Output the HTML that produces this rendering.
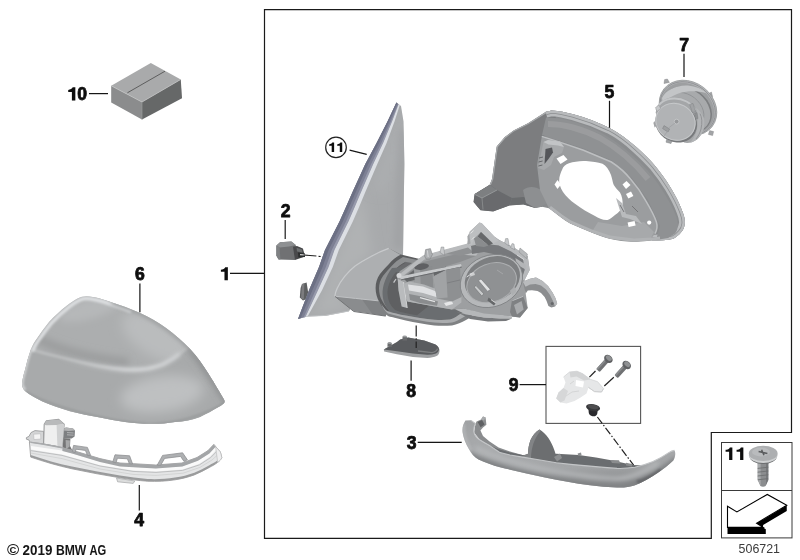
<!DOCTYPE html>
<html>
<head>
<meta charset="utf-8">
<title>Exterior mirror parts diagram</title>
<style>
html,body{margin:0;padding:0;background:#fff;}
body{width:800px;height:560px;overflow:hidden;font-family:"Liberation Sans",sans-serif;}
svg{display:block;position:absolute;left:0;top:0;}
.lbl{font-family:"Liberation Sans",sans-serif;font-weight:bold;font-size:17.6px;fill:#0a0a0a;stroke:#0a0a0a;stroke-width:0.75;stroke-linejoin:round;}
.ld{stroke:#161616;stroke-width:1.2;fill:none;}
.fr{stroke:#1a1a1a;stroke-width:1.2;fill:none;}
.dd{stroke:#222;stroke-width:1.2;fill:none;stroke-dasharray:6 2 1.5 2;}
</style>
</head>
<body>
<svg width="800" height="560" viewBox="0 0 800 560">
<defs>
<filter id="b1" filterUnits="userSpaceOnUse" x="0" y="0" width="800" height="560"><feGaussianBlur stdDeviation="1"/></filter>
<filter id="b2" filterUnits="userSpaceOnUse" x="0" y="0" width="800" height="560"><feGaussianBlur stdDeviation="2"/></filter>
<filter id="b3" filterUnits="userSpaceOnUse" x="0" y="0" width="800" height="560"><feGaussianBlur stdDeviation="3.5"/></filter>
<filter id="b5" filterUnits="userSpaceOnUse" x="0" y="0" width="800" height="560"><feGaussianBlur stdDeviation="6"/></filter>
<filter id="soft" filterUnits="userSpaceOnUse" x="0" y="0" width="800" height="560"><feGaussianBlur stdDeviation="0.45"/></filter>
<path id="one" d="M3.3 0 L0.8 0 C0.2 1.3 -1.6 2.3 -3.55 2.5 L-3.55 4.4 L0 4.4 L0 12.8 L3.3 12.8 Z"/>
</defs>
<rect x="0" y="0" width="800" height="560" fill="#fff"/>

<!-- ===== FRAME ===== -->
<g id="frame">
<path class="fr" d="M264.5 9.6 H791.5 V432.5 H711.3 V538.4 H264.5 Z"/>
<rect x="721.5" y="442.5" width="70.5" height="95.4" fill="none" stroke="#3a3a3a" stroke-width="1"/>
<line x1="721.6" y1="490.5" x2="792" y2="490.5" stroke="#3a3a3a" stroke-width="1"/>
<rect x="546" y="346.4" width="94.6" height="77" fill="none" stroke="#555" stroke-width="1.1"/>
</g>

<!-- PARTS-START -->
<!-- ===== PART 10 : box ===== -->
<g id="p10" filter="url(#soft)">
<path d="M111.2 85.8 L150.8 63 L180.8 79.4 L142 102 Z" fill="#a9aaab"/>
<path d="M111.2 85.8 L142 102 L142 119.6 L111.2 102.4 Z" fill="#8b8c8d"/>
<path d="M142 102 L180.8 79.4 L182 98.2 L142 119.6 Z" fill="#666768"/>
<path d="M127.4 92.8 L165 71.2" stroke="#555" stroke-width="0.9" fill="none"/>
<path d="M111.2 85.8 L142 102 L180.8 79.4" stroke="#c4c5c6" stroke-width="0.7" fill="none"/>
<path d="M142 102 L142 119.6" stroke="#9a9b9c" stroke-width="0.7" fill="none"/>
</g>

<!-- ===== PART 6 : mirror cap ===== -->
<g id="p6">
<defs>
<clipPath id="c6"><path id="cap6" d="M86.5 296.3 C95 296.5 103 299.5 112 302.5 C121 305.5 130 308.5 139 312.4 C149 317 158 322 166 328 C175 334.5 183 341.5 190 349 C197 356.5 203 365 208 373 C213 381 218 389 221 394.5 C223.5 398.5 225 400.5 224.6 402 C224.2 403.6 222 405 218.5 407.1 C212.6 410.6 206.4 414 200 416.9 C192 420 184 421.4 175 421.9 C166.6 423.4 158.4 423.9 150 423.75 C141.6 423.6 133.4 423 125 421.9 C116.6 420.8 108.4 419.3 100 417.5 C90 415.8 80 413.8 70 411.25 C60.6 408.6 51.4 405.4 42.5 401.6 C36 398.6 29.6 394.8 25.6 391.6 C23.4 389.6 21.9 386.6 22 383.5 C22.5 379 23.5 375 25 370 C26.5 363 28.5 356 31 349 C32.5 345 34.5 342 37 338.5 C40.5 333 44.5 327.5 49 322 C54.5 316 60.5 310.5 67 305.5 C70.5 302.8 74 300.3 77.5 298.5 C80.5 297 83.5 296.3 86.5 296.3 Z"/></clipPath>
<linearGradient id="g6a" x1="0" y1="0" x2="0" y2="1">
<stop offset="0" stop-color="#b9bbbc"/><stop offset="0.35" stop-color="#a7a9aa"/><stop offset="0.7" stop-color="#9fa1a2"/><stop offset="1" stop-color="#8c8e8f"/>
</linearGradient>
</defs>
<use href="#cap6" fill="#acaeaf" filter="url(#soft)"/>
<g clip-path="url(#c6)">
<!-- upper surface light spot right -->
<ellipse cx="160" cy="338" rx="42" ry="20" transform="rotate(28 160 338)" fill="#babcbd" filter="url(#b5)"/>
<!-- top area near peak lighter -->
<ellipse cx="92" cy="308" rx="34" ry="10" transform="rotate(-18 92 308)" fill="#b6b8b9" filter="url(#b3)"/>
<!-- darker band above ridge on left/middle -->
<path d="M40 340 C60 350 90 358 125 362" stroke="#9b9d9e" stroke-width="9" stroke-linecap="round" fill="none" filter="url(#b3)"/>
<!-- lower side base tone (below ridge) -->
<path d="M31.5 349.1 C40 352 48 354 56.3 356 C70 359.5 84 363 97.5 365.6 C107 367.4 116 368.6 125 369.2 C133 369.6 140 369.4 147 368.4 C153 367.2 158.6 365.8 163.5 363.7 C169.6 360.8 175 357.4 180 353.3 C184 350.4 188 347.2 191 343.6 L240 400 L220 440 L10 440 L10 360 Z" fill="#a8aaab"/>
<!-- bottom darker -->
<path d="M14 392 C50 412 100 430 140 432 C175 430 205 418 230 404 L236 450 L10 450 Z" fill="#9a9c9d" filter="url(#b3)" opacity="0.0"/>
<ellipse cx="162" cy="394" rx="42" ry="18" transform="rotate(-8 162 394)" fill="#bec0c1" filter="url(#b5)"/>
<path d="M26 392 C50 406 100 420 150 424.5 C185 423 210 412 226 402" stroke="#999b9c" stroke-width="2.2" fill="none" filter="url(#b1)"/>
<!-- right-lower darker -->
<path d="M188 350 C202 366 216 388 226 404 L236 398 L204 342 Z" fill="#8a8c8d" filter="url(#b3)"/>
<!-- ridge highlight -->
<path d="M31.5 349.4 C40 352.3 48 354.3 56.3 356.3 C70 359.8 84 363.3 97.5 365.9 C107 367.7 116 368.9 125 369.5 C133 369.9 140 369.7 147 368.7 C153 367.5 158.6 366.1 163.5 364 C169.6 361.1 175 357.7 180 353.6 C184 350.7 188 347.5 191 343.9" stroke="#bdbfc0" stroke-width="2.6" fill="none" filter="url(#b1)"/>
<linearGradient id="g6r" gradientUnits="userSpaceOnUse" x1="60" y1="0" x2="185" y2="0"><stop offset="0" stop-color="#d4d6d8" stop-opacity="0"/><stop offset="0.6" stop-color="#dcdee0" stop-opacity="1"/><stop offset="1" stop-color="#d4d6d8" stop-opacity="1"/></linearGradient>
<path d="M56.3 356.5 C70 360 84 363.5 97.5 366.1 C107 367.9 116 369.1 125 369.7 C133 370.1 140 369.9 147 368.9 C153 367.7 158.6 366.3 163.5 364.2 C169.6 361.3 175 357.9 180 353.8" stroke="url(#g6r)" stroke-width="3.4" fill="none" filter="url(#b2)"/>
<!-- top-left rim highlight -->
<path d="M33 350 C35 345 37 342 39 339.5 C42.5 334.5 46.5 329 51 323.5 C56.5 317.5 62.5 312 69 307 C72.5 304.3 76 302 79 300.4 C81.6 299 84 298.4 86.5 298.4 C95 298.6 103 301.6 112 304.6 C118 306.6 124 308.8 130 311" stroke="#dcdee0" stroke-width="3.6" fill="none" filter="url(#b1)" stroke-linecap="round"/>
<!-- left lower rim highlight -->
<path d="M31 349 C28.5 356 26.5 363 25 370 C23.5 375 22.5 379 22 383.5 C22 386 23 388 25 389.8" stroke="#d0d2d3" stroke-width="3" fill="none" filter="url(#b1)"/>
<!-- top right edge slight shade -->
<path d="M112 302 C122 305.5 130 308.5 139 312 C158 321 178 336 194 352 C204 364 214 380 224 398" stroke="#999b9c" stroke-width="4" fill="none" filter="url(#b2)"/>
</g>
</g>

<!-- ===== PART 4 : turn signal ===== -->
<g id="p4" filter="url(#soft)">
<!-- left small bracket -->
<path d="M26.4 437.6 L29 436.4 L31 432.6 L35 430.6 L43.6 431.4 L43.6 444 L30.6 443.6 L29 440 L26.4 439.2 Z" fill="#d4d5d6" stroke="#9b9c9d" stroke-width="0.9"/>
<path d="M33.6 434.2 L40.6 433.8 L40.8 439 L34 439.6 Z" fill="#f4f4f4" stroke="#b2b3b4" stroke-width="0.5"/>
<!-- dark slot under connector -->
<path d="M62.6 438 L70.4 438.6 L70 446 L72.4 450.6 L62.4 450 Z" fill="#747576"/>
<path d="M65.6 440 L70 440.6 L69.6 446.6 L66 449.4 Z" fill="#a7a8a9"/>
<!-- connector right of block -->
<path d="M62.8 429 L66 427.6 L73 428.4 L75 430.6 L74.6 436.6 L71.6 438.4 L63 438 Z" fill="#7d7f81"/>
<path d="M62.8 429 L66 427.6 L73 428.4 L75 430.6 L68.6 431 L63 430.6 Z" fill="#b3b4b5"/>
<path d="M67 432.6 L73.6 433 M67 434.8 L73.6 435.2" stroke="#c9cacb" stroke-width="0.7" fill="none"/>
<!-- tall block -->
<path d="M44.2 424.4 L46.4 420.8 L58.6 419.4 L64.2 424.2 L62.2 447.4 L43.6 444.4 Z" fill="#efefef" stroke="#9b9c9d" stroke-width="1.1"/>
<path d="M44.2 424.4 L46.4 420.8 L58.6 419.4 L64.2 424.2 L56.6 425 L46 425.2 Z" fill="#b9babb"/>
<path d="M56.6 425 L64.2 424.2 L62.2 447.4 L57.4 446.6 Z" fill="#d0d1d2"/>
<!-- lens body -->
<path d="M29.4 442 L43.6 444 L62.4 447.6 L72 450.2 L100 458.6 L120 463 L133.8 463.7 L155.8 465 L181.9 463 L197 457.5 L208 450.6 L213.8 444.4 L220.4 452 L221.8 457.5 C221 459.6 219.6 461 217.7 462.3 C215 464.6 212 466 209.4 467.4 C204.6 470.2 199.6 472.6 194.3 474.9 C188 477.2 181.6 478.8 175 479.8 C166 481.2 157 481.6 147.5 481.2 C138.4 480.6 129.4 479.4 120 477.8 C104 475.2 88 472.2 72 468.8 C58 465.8 44 461.6 30.7 457.1 Z" fill="#e4e5e6" stroke="#a1a2a3" stroke-width="0.9"/>
<!-- bottom dark edge -->
<path d="M30.7 455 C44 459.6 58 463.6 72 466.6 C88 470 104 473 120 475.6 C129.4 477.2 138.4 478.4 147.5 479 C157 479.4 166 479 175 477.6 C181.6 476.6 188 475 194.3 472.7 C199.6 470.4 204.6 468 209.4 465.2 C212 463.8 215 462.4 217.7 460.3 L217.7 462.3 C215 464.6 212 466 209.4 467.4 C204.6 470.2 199.6 472.6 194.3 474.9 C188 477.2 181.6 478.8 175 479.8 C166 481.2 157 481.6 147.5 481.2 C138.4 480.6 129.4 479.4 120 477.8 C104 475.2 88 472.2 72 468.8 C58 465.8 44 461.6 30.7 457.1 Z" fill="#9a9b9c"/>
<!-- white band under rail -->
<path d="M31 446 L62 450.6 L100 461.6 L133 467 L156 468.2 L182 466.2 L198 460.6 L209 453.6 L215.4 447 L216.6 449.6 L210 456.8 L199 464 L182.6 469.6 L156 471.6 L133 470.6 L100 465.2 L62 454.6 L31 449.6 Z" fill="#fafafa"/>
<!-- mid line -->
<path d="M30.6 450.6 L62 455.4 L100 466 L133 471.4 L156 472.4 L182.6 470.4 L199.6 464.8 L210.6 457.6 L217.6 450.6" stroke="#b4b5b6" stroke-width="0.8" fill="none"/>
<path d="M30.6 453 L62 458.6 L100 469 L133 474.4 L156 475.4 L183 473.2 L200 467.4 L212 460 L219 453.6" stroke="#cfd0d1" stroke-width="0.8" fill="none"/>
<!-- upper rail -->
<path d="M62.4 447.6 L72 450.2 L100 458.6 L120 463 L133.8 463.7 L155.8 465 L181.9 463 L197 457.5 L208 450.6 L213.8 444.4 L215.6 446.8 L209.4 453.6 L198 460.8 L182.4 466.4 L155.8 468.4 L133.6 467.2 L120 466.4 L100 462 L72 453.6 L62.4 451 Z" fill="#a3a5a7"/>
<path d="M31 442.4 L43.6 444.2 L62.4 447.8" stroke="#a9abad" stroke-width="1.4" fill="none"/>
<!-- clips -->
<path d="M72.2 451.6 L73.6 445.4 L87.4 447.4 L90.6 455.4 L87.6 455.6 L85.4 450.4 L76 449.2 L75.2 452.6 Z" fill="#aeb0b2" stroke="#8f9193" stroke-width="0.8"/>
<path d="M112.8 462 L115 454.8 L129.6 455.8 L132.6 464 L129.4 463.8 L127.4 458.8 L117.4 458.2 L116 462.8 Z" fill="#aeb0b2" stroke="#8f9193" stroke-width="0.8"/>
<path d="M157.2 465.2 L162.6 455.4 L182.6 452.8 L187.4 459.8 L184 461.4 L180.6 456.4 L164.6 458.4 L160.6 465.4 Z" fill="#aeb0b2" stroke="#8f9193" stroke-width="0.8"/>
<!-- bottom tab -->
<path d="M116.5 478 L117.6 481.8 L133.2 483.4 L134.8 481 Z" fill="#dcdddd" stroke="#a4a5a6" stroke-width="0.7"/>
<!-- right end cap -->
<path d="M213.8 444.4 L220.4 452 L221.8 457.5 C221 459.6 219.6 461 217.7 462.3 L216.4 452.6 L215.6 446.8 Z" fill="#eeeeef" stroke="#b7b8b9" stroke-width="0.6"/>
</g>

<!-- ===== PART 1 : mirror base triangle + arm ===== -->
<g id="p1base">
<defs>
<clipPath id="cTri"><path d="M396.4 102.6 L401 106 L403.5 121.4 L404.4 164 L403.8 200 L403 257 L388 249 L349 311.3 L325.7 315.7 L306 316.6 L298.0 319.0 L309.0 290.2 L319.0 267.0 L325.0 250.0 L339.5 221.4 L346.0 207.0 L352.1 192.9 L365.2 164.2 L376.7 142.8 L387.5 121.4 Z"/></clipPath>
</defs>
<g filter="url(#soft)">
<!-- small dark tab behind strip -->
<path d="M302 284 L306.6 282.6 L309 298 L303 300.6 L299.8 297.4 L300.6 288 Z" fill="#5d5e60"/>
<path d="M302 284 L304.4 283.4 L303.8 299.6 L301 298.6 Z" fill="#7b7c7e"/>
<!-- main face -->
<path d="M396.4 102.6 L401 106 L403.5 121.4 L404.4 164 L403.8 200 L403 257 L388 249 L349 311.3 L325.7 315.7 L306 316.6 L298.0 319.0 L309.0 290.2 L319.0 267.0 L325.0 250.0 L339.5 221.4 L346.0 207.0 L352.1 192.9 L365.2 164.2 L376.7 142.8 L387.5 121.4 Z" fill="#a8aaac"/>
</g>
<g clip-path="url(#cTri)">
<!-- lighter lower-left of face -->
<path d="M362 190 L322 296 L312 316 L350 310 L338 292 L352 268 L372 254 Z" fill="#b0b2b4" filter="url(#b5)"/>
<path d="M402 103 L395 130 L372 190 L384 192 L398 160 Z" fill="#acaeb0" filter="url(#b5)"/>
<!-- darker right of face -->
<path d="M400 130 L405 130 L403 250 L394 247 Z" fill="#a0a2a4" filter="url(#b3)"/>
</g>
<g filter="url(#soft)">
<!-- blue-gray strip -->
<path d="M396.4 102.6 L387.5 121.4 L376.7 142.8 L365.2 164.2 L352.1 192.9 L346.0 207.0 L339.5 221.4 L325.0 250.0 L319.0 267.0 L309.0 290.2 L298.0 319.0 L305.5 317.0 L318.0 290.2 L328.6 267.0 L334.5 250.0 L348.5 221.4 L354.8 207.0 L360.7 192.9 L373.2 164.2 L383.3 142.8 L392.1 121.4 L398.6 104.2 Z" fill="#7d8094"/>
<path d="M396.4 102.6 L387.5 121.4 L376.7 142.8 L365.2 164.2 L352.1 192.9 L346.0 207.0 L339.5 221.4 L325.0 250.0 L319.0 267.0 L309.0 290.2 L298.0 319.0 L300.6 318.2 L312.4 290.2 L322.6 267.0 L328.6 250.0 L342.9 221.4 L349.3 207.0 L355.4 192.9 L368.2 164.2 L379.2 142.8 L389.2 121.4 L397.3 103.2 Z" fill="#6c6f84"/>
<path d="M398.2 103.9 L390.8 121.4 L381.5 142.8 L371.0 164.2 L358.3 192.9 L352.3 207.0 L346.0 221.4 L331.8 250.0 L325.9 267.0 L315.5 290.2 L303.6 317.6 L305.5 317.0 L318.0 290.2 L328.6 267.0 L334.5 250.0 L348.5 221.4 L354.8 207.0 L360.7 192.9 L373.2 164.2 L383.3 142.8 L392.1 121.4 L398.6 104.2 Z" fill="#9699ab"/>
<!-- highlight -->
<path d="M398.6 104.2 L392.1 121.4 L383.3 142.8 L373.2 164.2 L360.7 192.9 L354.8 207.0 L348.5 221.4 L334.5 250.0 L328.6 267.0 L318.0 290.2 L305.5 317.0 L307.6 316.4 L322.0 290.2 L332.8 267.0 L338.8 250.0 L352.8 221.4 L359.1 207.0 L364.9 192.9 L377.2 164.2 L386.7 142.8 L394.5 121.4 L399.8 105.0 Z" fill="#dcdfe4"/>
<!-- face bottom edge light -->
<path d="M306 316.4 L325.7 315.4 L349 311" stroke="#c1c3c5" stroke-width="0.9" fill="none"/>

<!-- arm top dark sliver -->
<path d="M388.7 248.3 L400.9 254.4 L407.7 261.2 L412 266 L400.9 256.4 Z" fill="#7b7d7f"/>
<!-- arm main surface -->
<path d="M388.7 248.3 C382 250.6 376 253.6 370.5 256.7 C365 259.6 360 262.6 355.4 265.8 C351.4 269 347.8 272.6 344.7 276.4 C341.6 280.2 339 284.4 337.1 288.6 C335.8 291.4 335 293.8 334.9 296.2 L355.4 298.4 L378.1 301 L402 290 L402.9 256.2 Z" fill="#adafb1"/>
<!-- arm bottom wedge -->
<path d="M334.9 296.2 L355.4 298.4 L378.1 300.8 L388 312 L385.7 315.9 L370 313.6 L353.8 311.3 L345 304.6 Z" fill="#8a8c8e"/>
<path d="M362 299.2 L378.1 300.8 L388 312 L385.7 315.9 L372 313.8 Z" fill="#7f8183"/>
<!-- wedge upper edge highlight -->
<path d="M334.9 296.2 L355.4 298.4 L378.1 300.8" stroke="#bfc1c3" stroke-width="1" fill="none"/>
<!-- arm outer curve highlight -->
<path d="M388.7 248.3 C382 250.6 376 253.6 370.5 256.7 C365 259.6 360 262.6 355.4 265.8 C351.4 269 347.8 272.6 344.7 276.4 C341.6 280.2 339 284.4 337.1 288.6 C335.8 291.4 335 293.8 334.9 296.2" stroke="#c8cacc" stroke-width="1.3" fill="none"/>
<!-- arm bottom edge darker -->
<path d="M335 296.4 L353.8 311.5 L370 313.8 L385.7 316.1" stroke="#727476" stroke-width="1" fill="none"/>
<!-- opening: thin dark band, sleeve, interior -->
<path d="M400.9 254.6 C396 257 392 260.6 389 264 C385.6 267.4 382.6 270.6 380 274 C377 278.4 375.6 283 375.6 288 C375.6 293 377 297.6 379 301.6 C381 305.4 383.4 308.6 386 311.4 L388 316 L424 322 L432 262 Z" fill="#5b5d5f"/>
<path d="M403 257 C398.6 259.4 394.6 262.6 391.6 266 C388.4 269.4 385.6 272.6 383 276 C380.2 280 379 284 379 288.4 C379 293 380.2 297 382 300.6 C384 304.4 386.4 307.6 389 310.4 L392 316 L424 321 L432 263 Z" fill="#8d8f91"/>
<path d="M406 262 C401 264.4 397 267.8 394 271.6 C390.4 276 388.2 281 387.8 286 C387.4 291.6 388.6 297 391.2 301.6 C393 304.8 395.4 307.6 398.2 310 L424 316 L430 266 Z" fill="#696b6d"/>
<path d="M405.4 262.4 C400.4 264.8 396.6 268 393.6 271.8 C390 276.2 387.8 281.2 387.4 286.2 C387 291.8 388.2 297.2 390.8 301.8" stroke="#58595b" stroke-width="0.9" fill="none"/>
</g>
</g>

<!-- ===== PART 2 : connector ===== -->
<g id="p2" filter="url(#soft)">
<path d="M276.4 245.4 L280 242.2 L291.4 241.4 L295.7 245 L296.4 252 L295 260 L278.6 259.4 L276.4 255.8 Z" fill="#6f7173"/>
<path d="M276.4 245.4 L280 242.2 L291.4 241.4 L295.7 245 L289 246.6 L279.6 247.4 Z" fill="#8e9092"/>
<path d="M276.4 245.4 L279.6 247.4 L280.4 259.4 L278.6 259.4 L276.4 255.8 Z" fill="#7f8183"/>
<path d="M293 246.8 L297 246 L302.9 248.6 L304.3 253.6 L302.9 257.2 L295 260 Z" fill="#48494b"/>
<path d="M296.6 247.8 L302 249.6 L302.6 252.4 L297 251.4 Z" fill="#6d6f71"/>
<path d="M298 252.6 L305 253.4 L305 257 L298.4 257.6 Z" fill="#2c2d2e"/>
<path d="M300 254.6 L308 255.2" stroke="#d4d4d4" stroke-width="1.1" fill="none"/>
<path d="M303.6 255 L316.4 256" stroke="#222" stroke-width="1.2" fill="none"/>
<path d="M318.6 256.3 L320.6 256.5" stroke="#222" stroke-width="1.2" fill="none"/>
</g>

<!-- ===== PART 5 : housing frame ===== -->
<g id="p5">
<defs>
<clipPath id="c5"><path id="out5" d="M551.9 110.4 C559 110.6 566 112.4 573.2 114.3 C586 117.8 598 122.4 609.6 127.9 C619.5 133 628.6 140 636.9 147.6 C643.5 153.6 649.6 159.6 655 165.8 C660.6 172.6 665.8 179.8 670.2 187.1 C675 195 679.4 203.4 682.4 211.4 C684.2 216 685.2 220 684.8 223.5 C684.4 227.4 683 230.4 680.9 232.6 C678.6 235.4 676 237.4 673.3 238.7 C667 240.4 659.6 240.4 652 240.6 C646 241.4 640 241.9 633.8 241.7 C625.6 241.5 617.4 240.6 609.6 238.7 C603.4 237.2 597.4 235.2 591.4 232.6 C584 229.6 577 226.6 570.1 223.5 C567 221.8 564 219.6 561 217.4 C556.8 214.4 552.8 211.4 548.9 208.3 L542 206.8 L535 208 L523.4 204.5 L509.5 205.6 L493.2 211.4 L480.4 210.3 L473.5 202 L474.6 194 L489.7 184.7 L492 178.9 L496.7 146.4 L504.8 137 L514 130.2 L528 123.2 L545.8 111.8 Z"/></clipPath>
</defs>
<g filter="url(#soft)">
<use href="#out5" fill="#8a8c8e"/>
<g clip-path="url(#c5)">
<!-- left panel -->
<path d="M551 109 L528 123.2 L514 130.2 L504.8 137 L496.7 146.4 L492 178.9 L489.7 184.7 L474.6 194 L473.5 202 L480.4 210.3 L493.2 211.4 L509.5 205.6 L523.4 204.5 L535 208 L542 206.8 L548 200 L538 170 L543 140 L556 118 Z" fill="#7b7d7f"/>
<!-- left panel edge highlight -->
<path d="M549 110.6 L528 123.4 L514 130.4 L505 137.2 L497 146.6 L492.4 179 L490 184.8" stroke="#a9abad" stroke-width="1.8" fill="none"/>
<!-- foot -->
<path d="M489.7 184.7 L474.6 194 L473.5 202 L480.4 210.3 L493.2 211.4 L509.5 205.6 L512 198 L497 190 Z" fill="#696b6d"/>
<path d="M474.6 194 L489.7 184.7 L497 190 L482 198 Z" fill="#7d7f81"/>
<path d="M475 194.5 L482 198 L497 190" stroke="#9d9fa1" stroke-width="0.8" fill="none"/>
<path d="M482 198 L483 209.5" stroke="#8e9092" stroke-width="0.8" fill="none"/>
<path d="M512 198 L523.4 197 L536 201 L535 208 L523.4 204.5 L509.5 205.6 Z" fill="#6a6c6e"/>
<!-- corner pocket lighter -->
<path d="M523 190 C528 186 535 186 541 190 L547 203 L541 207 L535 208 L526 203 Z" fill="#8d8f91"/>
<!-- rim light band (stroked, clipped) -->
<path d="M545.8 111.8 L551.9 110.4 C559 110.6 566 112.4 573.2 114.3 C586 117.8 598 122.4 609.6 127.9 C619.5 133 628.6 140 636.9 147.6 C643.5 153.6 649.6 159.6 655 165.8 C660.6 172.6 665.8 179.8 670.2 187.1 C675 195 679.4 203.4 682.4 211.4 C684.2 216 685.2 220 684.8 223.5 C684.4 227.4 683 230.4 680.9 232.6 C678.6 235.4 676 237.4 673.3 238.7 C667 240.4 659.6 240.4 652 240.6" stroke="#b9bbbd" stroke-width="11.6" fill="none"/>
<path d="M545.8 111.8 L551.9 110.4 C559 110.6 566 112.4 573.2 114.3 C586 117.8 598 122.4 609.6 127.9 C619.5 133 628.6 140 636.9 147.6 C643.5 153.6 649.6 159.6 655 165.8 C660.6 172.6 665.8 179.8 670.2 187.1 C675 195 679.4 203.4 682.4 211.4 C684.2 216 685.2 220 684.8 223.5 C684.4 227.4 683 230.4 680.9 232.6 C678.6 235.4 676 237.4 673.3 238.7 C667 240.4 659.6 240.4 652 240.6" stroke="#8d8f91" stroke-width="6.6" fill="none"/>
<path d="M545.8 111.8 L551.9 110.4 C559 110.6 566 112.4 573.2 114.3 C586 117.8 598 122.4 609.6 127.9 C619.5 133 628.6 140 636.9 147.6 C643.5 153.6 649.6 159.6 655 165.8 C660.6 172.6 665.8 179.8 670.2 187.1 C675 195 679.4 203.4 682.4 211.4 C684.2 216 685.2 220 684.8 223.5 C684.4 227.4 683 230.4 680.9 232.6 C678.6 235.4 676 237.4 673.3 238.7 C667 240.4 659.6 240.4 652 240.6" stroke="#b9bbbd" stroke-width="5" fill="none"/>
<!-- inner wall (between rim and ledge) -->
<path d="M546 117.6 C560 117.4 578 122 596 130 C616 140 634 155 648 171 C660 185 670 201 676 216 C678.6 223 678.6 229 675 233.6 L668 238 L656 240 L660 226 L648 200 L632 178 L612 160.6 L584 148.6 L562 141.4 L542 135 Z" fill="#8f9193"/>
<path d="M548 124 C566 124 584 130 600 138 C618 148 634 162 648 179" stroke="#9fa1a3" stroke-width="6" fill="none" opacity="0.7"/>
<!-- inner plate -->
<path d="M541.8 136.4 L562 142.9 L583.5 150.3 L611.4 162 C619 167 625.6 172.8 630.7 179.3 C636.6 186 641.6 193 645.7 200.7 C650 208 654 215 656.4 222 C657.6 226 657 230 655 233.6 L650 240 L633.8 241.7 L609.6 238.7 L591.4 232.6 L570.1 223.5 L561 217.4 L548.9 208.3 L540 190 L537 165 Z" fill="#9b9d9f"/>
<path d="M598 222 L622 226 L644 222 L654 232 L650 240 L633.8 241.7 L609.6 238.7 L591.4 232.6 Z" fill="#a7a9ab"/>
<!-- plate ledge highlight -->
<path d="M541.8 136.4 L562 142.9 L583.5 150.3 L611.4 162 C619 167 625.6 172.8 630.7 179.3 C636.6 186 641.6 193 645.7 200.7 C650 208 654 215 656.4 222 C657.6 226 657 230 655 233.6" stroke="#bdbfc1" stroke-width="1.5" fill="none"/>
<!-- bottom edge of plate lighter -->
<path d="M548.9 208.3 L561 217.4 L570.1 223.5 L591.4 232.6 L609.6 238.7 L633.8 241.7 L652 240.6 L660 239.6 L660 236.5 L652 237.6 L634 238.6 L610 235.6 L592 229.6 L571 220.6 L562 214.6 L551 206 Z" fill="#b1b3b5"/>
<!-- bracket top-left of opening -->
<path d="M538 168 L543.5 142 L548 140 L560 141.5 L564 147 L562 153 L554 157 L551 165 L544 170 Z" fill="#a7a9ab"/>
<path d="M545.5 149 L552 147.5 L553 152.5 L548.5 159 L544.5 164 Z" fill="#55575a"/>
<path d="M543.5 142 L548 140 L560 141.5 L564 147 L558 145.5 L548.5 144.5 Z" fill="#c2c4c6"/>
<path d="M539 158 L543 157 M538.6 162 L542.6 161 M538.4 166 L542.4 165" stroke="#5f6163" stroke-width="0.9" fill="none"/>
</g>
<!-- white cutouts -->
<path d="M562 170 C563 166.5 565.6 164 569 163.2 C574 161.6 580 160.6 586 161 C592 161.4 598 162.4 602.5 163.8 C606 165.6 609 169.6 611 175 C612.4 179 612.6 182.6 613.8 185 C615.4 188 618 190 620 192.5 C622 196 623 200.6 622.5 205 C621.6 209.6 619 212.6 615 215 C612.6 217 610 219.2 607.5 220 C603 220.4 598.6 218 595 216 C588 212.6 581.6 208.6 575 203.8 C570.4 200.4 566 196.6 563 192 C560 187.4 558.4 182.6 559.4 177.6 C560 174.6 561 172 562 170 Z" fill="#fff"/>
<path d="M556.5 158.5 L563.5 155 L567.5 159.5 L560.5 164 Z" fill="#fff"/>
<path d="M622.5 184.6 L626.5 181 L630.5 185 L626 189 Z" fill="#fff"/>
<path d="M626 194 L631 191.6 L633.4 196 L628.4 198.6 Z" fill="#fff"/>
<path d="M627.6 222.6 L634.6 221 L635.6 225.4 L628.6 227 Z" fill="#fff"/>
<circle cx="649.2" cy="222.6" r="2.1" fill="#fff"/>
<path d="M557.5 180 L561 184.5 L557.5 189 L554.5 184.5 Z" fill="#fff"/>
<!-- detail bits near right of opening -->
<path d="M616 198 L622 203 L626 214 L636 216 L642 224 L630 219 L622 217 Z" fill="#b9bbbd"/>
<path d="M620 205 L624 212 M632 206 L638 212" stroke="#6f7173" stroke-width="0.9" fill="none"/>
</g>
</g>

<!-- ===== PART 1 : mechanism ===== -->
<g id="p1mech" filter="url(#soft)">
<!-- tray interior dark (continues from arm opening) -->
<path d="M392 268 C386 276 382 286 382.6 295 C383 302 386 308 391 312.6 C398 315.6 405.7 317.4 414 319 C421 320.4 428 321.6 434.3 322.2 C440 322.6 446 322.4 450 321.6 C455 320.4 460 318 466 314 L486 306 L480 280 L420 266 Z" fill="#6b6d6f"/>
<path d="M396 272 C390 279 387 287 387.6 295 C388 301 390.6 306 395 310 C401 312.4 409 314 417 315.2 L436 300 L420 278 Z" fill="#5e6062"/>
<!-- tray lip light band -->
<path d="M381 303 C382.6 306.6 384.6 309 387 311 C393 313 399 314.4 405.7 315.6 C415 317.4 425 319 434.3 319.8 C440 320.2 445 320.2 450 319.6 C453 318.8 456 317 458.6 315 C461 313.4 463.6 312 466 311 L470 309.4 L472 316.6 C470 317.6 468 318.8 466 320 C461.6 322.4 457 324.4 452 325.4 C446 326 440 326 434.3 325.4 C425 324.4 415 322.6 405.7 320.6 C399.6 319.2 393.6 317.6 388 316 C385 313.6 382.6 309 381 303 Z" fill="#7f8183"/>
<path d="M381 303 C382.6 306.6 384.6 309 387 311 C393 313 399 314.4 405.7 315.6 C415 317.4 425 319 434.3 319.8 C440 320.2 445 320.2 450 319.6 C453 318.8 456 317 458.6 315 C461 313.4 463.6 312 466 311 L470 309.4 L470.6 313.6 C468 314.6 465.6 316 463 317.4 C459.6 319.6 455.6 321.6 452 322.4 C446 323.2 440 323.2 434.3 322.6 C425 321.6 415 319.8 405.7 318 C399.6 316.8 393.6 315.2 388 313.6 C385.4 311.6 383 308 381 303 Z" fill="#aaacae"/>
<!-- frame main plate -->
<path d="M397 276 L400 271 L423 256 L445 250 L467 244.5 L469.7 231.7 L479.6 222.5 L482 223.4 L494.3 236.6 L500.2 240.5 L513.9 247.4 L527.7 256.3 L529.7 270 L524.7 279.8 L525.7 293.6 L527.7 308 L520 317.4 L500 315.5 L484 314.5 L464 308.5 L452 309.5 L432 306 L408 301.5 L399 290 Z" fill="#9d9fa1"/>
<!-- beam under top strut (mid gray) -->
<path d="M402 277.5 L423 262 L446 256.5 L462 253 L476 251 L476 256 L460 262 L440 268 L420 274 L406 279.5 Z" fill="#8c8e90"/>
<!-- cylinder under beam -->
<path d="M413.6 268 L432 266 L433.6 290 L415 291 Z" fill="#8a8c8e"/>
<path d="M413.6 268 L420 267.4 L421 290.6 L415 291 Z" fill="#9b9d9f"/>
<ellipse cx="421.6" cy="266.6" rx="7.4" ry="3.2" transform="rotate(-8 421.6 266.6)" fill="#5f6163"/>
<!-- dark gaps -->
<path d="M403 278 L414 270 L414.6 280 L407 282 Z" fill="#66686a"/>
<path d="M433 270 L446 266.6 L446 270 L434 276 Z" fill="#66686a"/>
<!-- left vertical bracket -->
<path d="M397.9 279 L403.6 282 L407.2 308 L401.6 306.6 L398.4 290 Z" fill="#b9bbbd"/>
<path d="M403.6 282 L407.2 308" stroke="#d8d9da" stroke-width="0.9" fill="none"/>
<!-- lower-left bright arm -->
<path d="M403.6 284 L409 281.6 L424 284.4 L444.3 292 L461.4 296 L461.4 302.6 L452 309.5 L432 306 L407.2 301.5 Z" fill="#b1b3b5"/>
<path d="M408 284.4 L423 286.4 L443 294 L441 298.4 L423 293 L409 290.4 Z" fill="#dfe0e2"/>
<path d="M409 294 L422 296.5 L438 301.4 L437 305.8 L420 303 L410 300 Z" fill="#8a8c8e"/>
<path d="M420 297.6 L435 301.6" stroke="#e3e4e5" stroke-width="1.2" fill="none"/>
<path d="M444 303 L452 301 L453 304 L446 306 Z" fill="#e6e7e8"/>
<!-- top strut -->
<path d="M398 275.5 L423 255.6 L445 249.6 L467.5 243.6 L478.6 251.7 L476 255.7 L446 253.4 L424.5 259.4 L401 277.6 Z" fill="#b9bbbd"/>
<path d="M446 253.6 L468 247.6 L474 252.6 L460 256 Z" fill="#8f9193"/>
<!-- diagonal rod -->
<path d="M399.5 276.5 L461 264 L461.8 266.6 L401 279.5 Z" fill="#c6c8ca"/>
<path d="M401 279.9 L461.8 267" stroke="#5f6163" stroke-width="0.8" fill="none"/>
<!-- pivot left -->
<circle cx="399" cy="275.4" r="2.5" fill="#d5d6d8"/>
<path d="M396 279 L393.6 282.6" stroke="#c9cacc" stroke-width="1.2" fill="none"/>
<!-- center block -->
<path d="M432.9 277 L446 270 L460 267 L461.6 297 L452 301.4 L437 298.6 Z" fill="#8e9092"/>
<path d="M432.9 277 L446 270 L447.6 297.6 L437 298.6 Z" fill="#a1a3a5"/>
<path d="M447 283 L460 280" stroke="#77797b" stroke-width="0.7" fill="none"/>
<!-- small posts on strut -->
<path d="M424.6 256 L425.6 249.6 L430.4 248.6 L432.4 254.6 L430 259 L426 259 Z" fill="#adafb1" stroke="#77797b" stroke-width="0.5"/>
<path d="M427.4 250.4 L428.2 257" stroke="#dcdddf" stroke-width="0.8" fill="none"/>
<path d="M440 252.4 L441.2 247 L443.8 247 L444.6 255.4 Z" fill="#c8cacc" stroke="#77797b" stroke-width="0.4"/>

<!-- upper housing wall: rim light -->
<path d="M468 244.5 L469.7 240 L482 238 L500.2 240.5 L513.9 247.4 L527.7 256.3 L529.7 270 L524.7 279.8 L521 281 L524.6 270 L523 259.6 L511 251.4 L498.6 245.6 L482 243.4 L471 246 Z" fill="#b7b9bb"/>
<!-- wall inner dark -->
<path d="M471 246 L482 243.4 L498.6 245.6 L511 251.4 L523 259.6 L524.6 270 L521 281 L514 266 L500 255.6 L484 252 L472 254 Z" fill="#77797b"/>
<!-- tower -->
<path d="M469.7 231.7 L479.6 222.5 L482 223.4 L494.3 236.6 L499 240.4 L493 243.6 L481 232 L474 238.4 L472 245 L468 244.5 Z" fill="#bdbfc1"/>
<path d="M481 232 L493 243.6 L488.6 245.6 L477.6 236.6 Z" fill="#66686a"/>
<path d="M474 238.4 L477.6 236.6 L488.6 245.6 L484 247 L476 246 Z" fill="#8a8c8e"/>
<path d="M470.6 233.4 L473.6 230.6 M471.8 239.6 L474.6 236.8 M468.6 238.6 L468.2 243" stroke="#e4e5e6" stroke-width="1" fill="none"/>
<path d="M467.4 236.6 L469 233.6 L470.6 243.6 L468 244.4 Z" fill="#a3a5a7"/>
<!-- posts right top -->
<path d="M504.6 243 L505.6 238.6 L508 238.6 L509.2 246 Z" fill="#c8cacc" stroke="#77797b" stroke-width="0.4"/>
<path d="M510.6 247.6 L512 243.6 L514 244 L514.8 249.8 Z" fill="#c8cacc" stroke="#77797b" stroke-width="0.4"/>
<path d="M519 252 L520 248 L527.4 254 L526.6 258.6 Z" fill="#b7b9bb" stroke="#77797b" stroke-width="0.4"/>
<path d="M515.4 258 L525.6 264.6 L525.6 269.6 L516.6 264.6 Z" fill="#b3b5b7"/>
<path d="M517 255 L524 259.6" stroke="#dcdddf" stroke-width="0.8" fill="none"/>

<!-- ring -->
<g transform="rotate(-22 491.4 281)">
<ellipse cx="491.4" cy="281" rx="32" ry="25.6" fill="#b6b8ba"/>
<ellipse cx="491.4" cy="281" rx="32" ry="25.6" fill="none" stroke="#7f8183" stroke-width="0.8"/>
<ellipse cx="493" cy="279.6" rx="28.4" ry="22" fill="#7d7f81"/>
<ellipse cx="491" cy="282.6" rx="25.6" ry="19" fill="#8f9193"/>
<ellipse cx="491" cy="282.6" rx="25.6" ry="19" fill="none" stroke="#adafb1" stroke-width="1"/>
</g>
<!-- disc details -->
<path d="M478.4 280.6 L481 279 L490.4 289.4 L487.6 291.4 Z" fill="#e1e2e3" stroke="#66686a" stroke-width="0.5"/>
<path d="M474 287 L476 285.6 L484 294 L481.6 295.8 Z" fill="#c8cacb" stroke="#66686a" stroke-width="0.5"/>
<path d="M469.6 273.6 L474 272 L475 275 L470.6 276.6 Z" fill="#cdcecf"/>
<path d="M466.6 277 L472.6 273" stroke="#dcdddf" stroke-width="1" fill="none"/>
<path d="M488.6 297.6 L496 303 L494 305.4 L487.4 300.4 Z" fill="#66686a"/>
<path d="M491 299.6 L496 303.2" stroke="#dfe0e1" stroke-width="0.9" fill="none"/>
<path d="M510 290.6 L514.6 287 L516.4 291.4 L512.4 295.4 Z" fill="#adafb1"/>
<path d="M497 270 L503 274" stroke="#a9abad" stroke-width="0.8" fill="none"/>
<!-- hook arm -->
<path d="M522.8 281.8 L530 278.8 L536 277.6 L542.5 281 L548 286 L552.5 292.5 L555.4 298 L557.2 303.4 L555 306.6 L551.4 307.4 L548.4 306 L546.6 301 L544.6 297 L541 293 L537.5 291 L532 290.2 L527.8 290.4 L525.7 293.6 Z" fill="#8b8d8f"/>
<path d="M522.8 281.8 L530 278.8 L536 277.6 L542.5 281 L548 286 L552.5 292.5 L555.4 298 L557.2 303.4 L555 306.6 L553 301 L550 295 L546 289.6 L541 285.6 L535.6 284 L530 284.6 L525.6 286.8 Z" fill="#b9bbbd"/>
<circle cx="552.2" cy="303.6" r="1.5" fill="#66686a"/>
<!-- bottom right block -->
<path d="M510 312 L512 300 L523 296 L527.7 308 L520 317.4 L512 316.5 Z" fill="#7f8183"/>
<path d="M514 305 L521.6 301 L523.6 309.6 L517 314.6 Z" fill="#a9abad"/>
<path d="M512.4 300.6 L523 296.4" stroke="#c4c6c8" stroke-width="0.9" fill="none"/>
<!-- base plate under ring -->
<path d="M455 309.3 L464 308.5 L484 313.5 L500 315 L512 316.5 L512 318.6 L500 318.4 L484 317.6 L466 314.6 Z" fill="#b5b7b9"/>
<path d="M456 311.6 L466 314.6 L484 317.6 L500 318.4 L512 318.6 L506 321 L488 321.6 L470 319 Z" fill="#77797b"/>
</g>

<!-- ===== PART 7 : actuator ===== -->
<g id="p7" filter="url(#soft)">
<!-- tabs on flange -->
<path d="M664 83.6 L664.6 79.6 L667.4 79 L669.4 82.4 Z" fill="#a3a5a7" stroke="#808284" stroke-width="0.4"/>
<path d="M709 93.6 L711.4 92 L712.6 96.6 L710.4 98 Z" fill="#a3a5a7" stroke="#808284" stroke-width="0.4"/>
<path d="M709.6 130.6 L713.6 131.6 L712.6 135.6 L708.4 134.4 Z" fill="#a3a5a7" stroke="#808284" stroke-width="0.4"/>
<!-- flange -->
<g transform="rotate(38 688 107.8)">
<ellipse cx="688" cy="107.8" rx="30.6" ry="25.6" fill="#b4b6b8"/>
<ellipse cx="688" cy="107.8" rx="30.6" ry="25.6" fill="none" stroke="#8f9193" stroke-width="0.7"/>
<ellipse cx="688" cy="108.4" rx="28.6" ry="23.4" fill="#9d9fa1"/>
<ellipse cx="688" cy="108.2" rx="29.4" ry="24.4" fill="none" stroke="#85878a" stroke-width="0.7"/>
<ellipse cx="688.6" cy="109.4" rx="26.4" ry="21" fill="#7d7f81"/>
<ellipse cx="688.4" cy="110" rx="25.4" ry="20" fill="#a8aaac"/>
<ellipse cx="687" cy="112" rx="21" ry="16" fill="none" stroke="#8f9193" stroke-width="0.8"/>
</g>
<!-- dish highlight top-left -->
<path d="M662 98 C666 90 676 85 688 85.6 C696 86.4 702 89 706 93 C698 91 688 90.6 680 93 C672 95.6 666 100 663 105 Z" fill="#c3c5c7"/>
<!-- body cylinder side -->
<path d="M655.6 113 C656.6 104 664 97.6 674 97 C684 96.6 693.4 102 697 110 C701 112 704 116 704.6 121 C705.4 128 702 135 697 139.4 C692.6 142.6 688 143.6 684 142.6 Z" fill="#a4a6a8"/>
<path d="M656.6 110 C658.6 102.6 665.6 98.6 674 98.4 C683 98.2 691.6 103 695 110" stroke="#c2c4c6" stroke-width="2" fill="none"/>
<path d="M696 108 C700 110.6 703.6 115 704.4 121 C705.2 128 702 135 697 139.4 C694.6 141 692.4 142.2 690 142.6 C694.6 137.6 697.4 131 697.6 124 C697.6 118 697.4 112.6 696 108 Z" fill="#b2b4b6"/>
<path d="M700 113.6 C702 117 702.4 123 701 129 C700 133 698 136.6 696 139" stroke="#8a8c8e" stroke-width="0.8" fill="none"/>
<!-- front face -->
<g transform="rotate(28 675.6 122)">
<ellipse cx="676.6" cy="122.6" rx="21.4" ry="19" fill="#77797b"/>
<ellipse cx="675.4" cy="121.8" rx="20.6" ry="18.6" fill="#b1b3b5"/>
<ellipse cx="675.4" cy="121.8" rx="20" ry="18" fill="none" stroke="#c6c8ca" stroke-width="0.9"/>
</g>
<circle cx="676.6" cy="121.6" r="2.4" fill="#97999b" stroke="#cdcfd0" stroke-width="0.7"/>
<path d="M664 125.6 L669.6 129 L668 132 L662.6 128.6 Z" fill="#9d9fa1" stroke="#7b7d7f" stroke-width="0.5"/>
<path d="M664 136 L668 130.6 M669 127.6 L675 123" stroke="#9c9ea0" stroke-width="0.7" fill="none"/>
<!-- lugs on face edge -->
<path d="M655.4 107.6 L659 105 L660.6 108.6 L657 111.4 Z" fill="#c6c8ca" stroke="#8a8c8e" stroke-width="0.4"/>
<path d="M689.6 104.4 L693 103.4 L695.6 111.6 L692.4 112.6 Z" fill="#a1a3a5" stroke="#77797b" stroke-width="0.4"/>
<path d="M694.6 113 L697 112.6 L698 118.6 L695.6 119 Z" fill="#8f9193" stroke="#77797b" stroke-width="0.4"/>
<path d="M666.6 139.4 L672 141 L671 143.6 L666 142.2 Z" fill="#a1a3a5" stroke="#77797b" stroke-width="0.4"/>
<path d="M654.4 121 L656.4 126 L654.6 127.6 L653.4 123 Z" fill="#a1a3a5"/>
</g>

<!-- ===== PART 8 : cover ===== -->
<g id="p8" filter="url(#soft)">
<path d="M383.8 349.6 L397 342 L400.2 339.6 L408.2 337.6 L424.3 340.5 L435.5 344.5 C438.5 346.5 439.8 348.8 439.5 351 C439.3 353.4 438.5 354.8 437.1 355.8 C434 357.4 431 357.8 427.5 357.9 L413 356.9 L396.9 354.2 L384.1 351.6 Z" fill="#9ea0a2"/>
<path d="M383.8 349.6 L397 342 L400.2 339.6 L408.2 337.6 L424.3 340.5 L435.5 344.5 C438 346 439 347.8 439 349.6 C438.6 351.6 437.6 352.8 436 353.6 C433 354.6 430 354.9 427 354.8 L413 353.6 L397 351.2 Z" fill="#5a5c5e"/>
<path d="M418 351 L432 352.6 C435 352 437 350.6 437.6 348.6" stroke="#7d7f81" stroke-width="1.4" fill="none"/>
<path d="M387.6 343 L391.6 343 L392 346.8 L387.4 346.8 Z" fill="#6a6c6e"/><ellipse cx="389.6" cy="343" rx="2" ry="0.9" fill="#9a9c9e"/>
<path d="M402.6 336.4 L406.8 336.4 L407.2 340.6 L402.4 340.6 Z" fill="#6a6c6e"/><ellipse cx="404.7" cy="336.4" rx="2.1" ry="0.9" fill="#9a9c9e"/>
</g>

<!-- dash-dot to part 8 -->
<path d="M416.2 325.6 L416.2 348" stroke="#222" stroke-width="1.2" fill="none" stroke-dasharray="11 1.6 1.6 1.6"/>
<!-- ===== PART 9 : fastener set ===== -->
<g id="p9" filter="url(#soft)">
<!-- screws -->
<g transform="rotate(42 608.4 358.9)">
<rect x="606.1" y="360.6" width="4.6" height="14" rx="1.2" fill="#6f7173"/>
<rect x="606.1" y="360.6" width="1.8" height="14" rx="0.9" fill="#898b8d"/>
<ellipse cx="608.4" cy="358.9" rx="4.7" ry="3.7" fill="#5f6163"/>
<ellipse cx="608.2" cy="358" rx="3.4" ry="2.2" fill="#8f9193"/>
</g>
<g transform="rotate(42 626.7 365)">
<rect x="624.4" y="366.7" width="4.6" height="14" rx="1.2" fill="#6f7173"/>
<rect x="624.4" y="366.7" width="1.8" height="14" rx="0.9" fill="#898b8d"/>
<ellipse cx="626.7" cy="365" rx="4.7" ry="3.7" fill="#5f6163"/>
<ellipse cx="626.5" cy="364.1" rx="3.4" ry="2.2" fill="#8f9193"/>
</g>
<path d="M595.5 371 L589.4 377.2" stroke="#222" stroke-width="1.2"/>
<path d="M613.8 377.2 L604.3 386" stroke="#222" stroke-width="1.2"/>
<!-- clip (very light) -->
<path d="M563.5 377 L569.5 372 L577 371.2 L582.5 373.6 L590.5 379.4 L597.5 381.6 L603.6 388.6 L601.5 392 L594.5 391.6 L588.5 387.4 L586.5 393.6 L580.6 397.6 L574.5 401 L566.5 403.6 L560.5 402.6 L556.2 398.4 L558.5 392.6 L563.5 388 L565.5 382.6 Z" fill="#e6e7e8"/>
<path d="M569.5 372 L577 371.2 L582.5 373.6 L590.5 379.4 L584 380.4 L576.5 376.4 L570.5 377.4 Z" fill="#d3d4d5"/>
<path d="M576 380 L584 381.6 L583 387.6 L575.5 386 Z" fill="#fff"/>
<path d="M563.5 377 L569.5 372 L577 371.2 L582.5 373.6 L590.5 379.4 L597.5 381.6 L603.6 388.6 L601.5 392 L594.5 391.6 L588.5 387.4" stroke="#d0d1d2" stroke-width="0.7" fill="none"/>
<path d="M566 396 L572 392 L579 391 M570 384 L574 381" stroke="#cfd0d1" stroke-width="0.8" fill="none"/>
<path d="M558.5 392.6 L563.5 388 L568 391 L564.5 400.4 L560.5 402.6 L556.2 398.4 Z" fill="#d6d7d8"/>
<path d="M588.5 387.4 L594.5 391.6 L601.5 392 L603.6 388.6" stroke="#c9cacb" stroke-width="0.8" fill="none"/>
<!-- grommet -->
<path d="M588.4 409 L597.8 410 L597.2 414 C596.4 416 594.6 416.6 592.6 416.2 C590.4 415.8 589 414.6 588.8 413 Z" fill="#2b2c2e"/>
<ellipse cx="593.1" cy="407.6" rx="7.1" ry="3.5" transform="rotate(10 593.1 407.6)" fill="#37383a"/>
<ellipse cx="593.3" cy="406.8" rx="5.4" ry="2.2" transform="rotate(10 593.3 406.8)" fill="#4d4e50"/>
</g>
<path d="M597.4 417 L633.6 465.2" class="dd" style="stroke-dasharray:8 2 1.5 2"/>

<!-- ===== PART 3 : lower trim ===== -->
<g id="p3">
<defs>
<linearGradient id="g3" x1="0" y1="0" x2="0.12" y2="1">
<stop offset="0" stop-color="#9fa1a3"/><stop offset="0.45" stop-color="#a9abad"/><stop offset="0.75" stop-color="#a3a5a7"/><stop offset="1" stop-color="#87898b"/>
</linearGradient>
<clipPath id="c3"><path id="out3" d="M465.4 420.6 L471 420.2 L475.5 423.6 C474 426.6 473.6 429.6 474 432.5 C475 436 477.4 438.4 480 440 C483 442 486 443.6 489 445.2 C492 447.2 495 449.4 498 451.2 L500 452.6 L510 455 L522.5 457.1 L540 460 L556.3 462.8 L573 464.6 L590 466.1 L604 467.4 L617 468.4 C623 468.6 629 468.2 635 467.3 C641 466 647 464 653 461.6 C658.6 459 664 455.8 668.8 452.6 C670.6 451.4 672.6 450.6 674.4 450.4 C675.6 452 675.8 456 673.3 460.5 C668.6 465 663.4 469.2 657.5 472.9 C650.4 477.6 643 481.8 635 485.3 C629 487.2 623 487.9 617 487.5 C608 487.2 599 486.4 590 485.3 C575 483.2 560 480.4 545 477.4 C530 474.2 515 470.8 500 467.3 C492.6 465.2 485.4 462.6 478.5 459.4 C474.4 457 471 453.4 468.7 448.7 C465.6 443.4 463.4 438 462.6 432.5 C462 428 463.2 424 465.4 420.6 Z"/></clipPath>
</defs>
<g filter="url(#soft)">
<!-- clip left -->
<path d="M476.6 421.6 L481 419.6 L483 416.6 L485.6 417.6 L486.4 424.8 L483 427.6 L480.4 430.6 L476 426.4 Z" fill="#8d8f91"/>
<path d="M477.6 422 L482 420 L484.6 424.6 L480.6 427.2 Z" fill="#5f6163"/>
<path d="M481 419.6 L483 416.6 L485.6 417.6 L484 420.6 Z" fill="#a9abad"/>
<!-- inner side wall left -->
<path d="M475.5 423.6 L477 421.4 L480 429.6 L483 436 L489.6 441.6 L498.6 447.4 L510 451.6 L522.5 455 L522.5 457.1 L510 455 L498 451.2 L489 445.2 L480 440 L474 432.5 Z" fill="#8a8c8e"/>
<!-- floor dark -->
<path d="M489 445.25 L498 449 L510 452.6 L522.5 455 L540 454.2 L556.3 453.8 L578.8 454.9 L596 457.6 L612.5 460.5 L632.8 465 L645 465.6 L635 470 L600 470 L556 466 L520 460 L496 454 Z" fill="#6b6d6f"/>
<!-- fin -->
<path d="M539.4 429.5 C542.6 431 545.6 434.2 548.4 438 C551 442 553 446 554 449.3 C555.4 452.6 556 455.6 556.3 458.3 L560.6 461.6 L556 464 L522.5 458 L522.5 456 L528 453.8 C528 449 529 444.6 530.4 440.3 C532.4 435.6 535.6 431.6 539.4 429.5 Z" fill="#6c6e70"/>
<path d="M539.4 429.5 C535.6 431.6 532.4 435.6 530.4 440.3 C529 444.6 528 449 528 453.8 L522.5 456 L522.5 458 L531 458.4 C531 453 532 448 533.4 443.6 C535 439 537.4 434 541 430.4 Z" fill="#828486"/>
<!-- floor details -->
<path d="M554 457 L560 453.6 L562 458 L557 461.6 Z" fill="#8d8f91"/>
<path d="M577.6 453.4 L581 452.6 L581.6 455.2 L578.2 455.8 Z" fill="#8d8f91"/>
<path d="M610.6 460 L619 460.2 L620.4 463.6 L612 463 Z" fill="#8a8c8e"/>
<path d="M626 462.8 L632 464 L632 466.6 L626 465.4 Z" fill="#8a8c8e"/>
<!-- outer body -->
<use href="#out3" fill="url(#g3)"/>
</g>
<g clip-path="url(#c3)">
<!-- lower dark shading -->
<path d="M470 452 C490 462 520 470 545 475.4 C575 481.4 600 484.6 617 485 C630 485 645 478 660 468 L676 456 L680 495 L460 495 Z" fill="#808284" filter="url(#b2)"/>
<!-- mid highlight band -->
<path d="M476 448 C490 456 520 464 546 469.6 C575 475 600 478.4 618 478.6 C632 478 646 471 658 463" stroke="#b5b7b9" stroke-width="4" fill="none" filter="url(#b2)"/>
<!-- right-end slot -->
<path d="M636 480.6 C644 478.6 652 474.6 660 468.6 L662 471 C654 477 646 481.6 638 484 Z" fill="#66686a" filter="url(#b1)"/>
<!-- left end light -->
<path d="M464 424 C463 432 466 442 471 450" stroke="#b3b5b7" stroke-width="2.4" fill="none" filter="url(#b1)"/>
</g>
<g filter="url(#soft)">
<!-- upper inside edge highlight -->
<path d="M471 420.4 L475.5 423.6 C474 426.6 473.6 429.6 474 432.5 C475 436 477.4 438.4 480 440 C483 442 486 443.6 489 445.2 C492 447.2 495 449.4 498 451.2 L500 452.6 L510 455 L522.5 457.1 L540 460 L556.3 462.8 L573 464.6 L590 466.1 L604 467.4 L617 468.4 C623 468.6 629 468.2 635 467.3 C641 466 647 464 653 461.6 C658.6 459 664 455.8 668.8 452.6 C670.6 451.4 672.6 450.6 674.4 450.4" stroke="#c3c5c7" stroke-width="1.1" fill="none"/>
</g>
</g>

<!-- ===== screw 11 ===== -->
<g id="s11" filter="url(#soft)">
<path d="M757.7 463 L768.3 463 L768.3 480 L765.6 486 C764.4 487 761.6 487 760.4 486 L757.7 480 Z" fill="#8b8d8f"/>
<path d="M757.7 463 L760.6 463 L760.6 485.6 L757.7 480 Z" fill="#a9abad"/>
<path d="M766 463 L768.3 463 L768.3 480 L766 485 Z" fill="#77797b"/>
<path d="M757.7 468.4 L768.3 467.2 M757.7 472.2 L768.3 471 M757.7 476 L768.3 474.8 M757.9 479.8 L768.1 478.6" stroke="#6d6f71" stroke-width="0.9" fill="none"/>
<ellipse cx="763.2" cy="456.6" rx="13.6" ry="7.4" fill="#6b6d6f"/>
<ellipse cx="763.2" cy="455.2" rx="14.3" ry="7.8" fill="#cfd1d2"/>
<ellipse cx="763.2" cy="453.4" rx="14.4" ry="7.6" fill="#adafb1"/>
<ellipse cx="761" cy="452" rx="9" ry="4.4" fill="#b9bbbd"/>
<path d="M758.6 451.6 L767.4 453.4 M761.6 449.8 L764 455.2" stroke="#5a5c5e" stroke-width="1.5" fill="none"/>
</g>

<!-- ===== arrow ===== -->
<g id="arrow" filter="url(#soft)">
<path d="M727.5 527.4 L763.1 527.4 L765.8 529.3 L765.8 534.1 L727.5 534.1 Z" fill="#000"/>
<path d="M756.6 523.2 L786.75 505.3 L786.75 511 L763.1 525 L763.1 527.4 Z" fill="#000"/>
<path d="M727.5 506.3 L736.9 511.9 L767.3 494.4 L786.75 505.3 L756.6 523.2 L763.1 527.4 L727.5 527.4 Z" fill="#fff" stroke="#000" stroke-width="1.1" stroke-linejoin="miter"/>
</g>
<!-- PARTS-END -->

<!-- ===== LABELS & LEADERS ===== -->
<g id="labels" filter="url(#soft)">
<use href="#one" transform="translate(71.9 87.3) scale(1.04)" fill="#0a0a0a"/><text class="lbl" x="77.3" y="100.4">0</text>
<line class="ld" x1="89" y1="93.6" x2="108" y2="93.6"/>
<use href="#one" transform="translate(224.5 267.3) scale(1.02)" fill="#0a0a0a"/>
<line class="ld" x1="230" y1="273.4" x2="264" y2="273.4"/>
<text class="lbl" x="280.8" y="216.8">2</text>
<line class="ld" x1="285.2" y1="220" x2="285.2" y2="239"/>
<text class="lbl" x="406.8" y="448.8">3</text>
<line class="ld" x1="417.7" y1="442.3" x2="461.7" y2="442.3"/>
<text class="lbl" x="134.2" y="525.6">4</text>
<line class="ld" x1="139.3" y1="485" x2="139.3" y2="510.5"/>
<text class="lbl" x="604.6" y="97.6">5</text>
<line class="ld" x1="609.5" y1="100.8" x2="609.5" y2="127.8"/>
<text class="lbl" x="135" y="280.2">6</text>
<line class="ld" x1="139.9" y1="283.4" x2="139.9" y2="312.2"/>
<text class="lbl" x="679.2" y="50.8">7</text>
<line class="ld" x1="684" y1="53.8" x2="684" y2="77"/>
<text class="lbl" x="406.3" y="396.8">8</text>
<line class="ld" x1="411.1" y1="360.6" x2="411.1" y2="380.7"/>
<text class="lbl" x="508.8" y="391">9</text>
<line class="ld" x1="519.6" y1="384.6" x2="546" y2="384.6"/>
<use href="#one" transform="translate(729.1 447.4) scale(0.985)" fill="#0a0a0a"/><use href="#one" transform="translate(740.1 447.4) scale(0.985)" fill="#0a0a0a"/>
<circle cx="336" cy="147.4" r="10.3" fill="#fff" stroke="#222" stroke-width="1.2"/>
<use href="#one" transform="translate(331.7 142.6) scale(0.735)" fill="#0a0a0a"/><use href="#one" transform="translate(339.8 142.6) scale(0.735)" fill="#0a0a0a"/>
<line class="ld" x1="349.6" y1="150.2" x2="366.7" y2="154.3"/>
<text x="738.6" y="552.6" textLength="41.4" lengthAdjust="spacingAndGlyphs" style="font-family:'Liberation Sans',sans-serif;font-size:12.6px;fill:#3a3a3a;">506721</text>
<g style="font-family:'Liberation Sans',sans-serif;font-weight:bold;font-size:15.2px;fill:#161616;">
<text x="6.9" y="554.8" textLength="12.2" lengthAdjust="spacingAndGlyphs">©</text>
<text x="22.6" y="554.8" textLength="29.8" lengthAdjust="spacingAndGlyphs">2019</text>
<text x="55.9" y="554.8" textLength="30.4" lengthAdjust="spacingAndGlyphs">BMW</text>
<text x="89.4" y="554.8" textLength="16.8" lengthAdjust="spacingAndGlyphs">AG</text>
</g>
</g>
</svg>
</body>
</html>
